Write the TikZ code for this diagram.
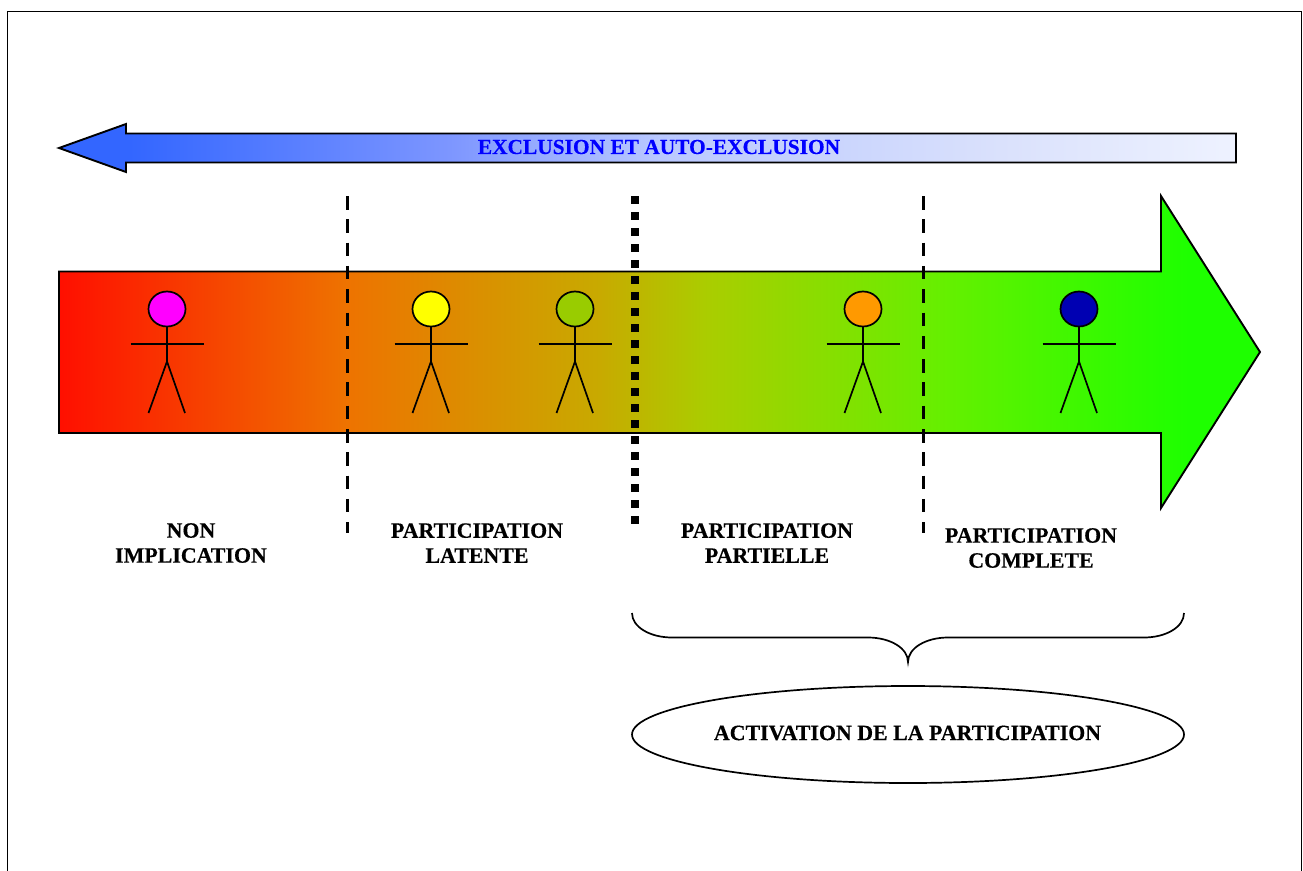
\documentclass[tikz,border=0pt]{standalone}
\usepackage{fontspec}
\setmainfont[BoldFont={Liberation Serif Bold},BoldFeatures={FakeBold=0.35}]{Liberation Serif}
\usetikzlibrary{shapes.geometric}
\definecolor{headmagenta}{RGB}{255,0,255}
\definecolor{headyellow}{RGB}{255,255,0}
\definecolor{headolive}{RGB}{153,204,0}
\definecolor{headorange}{RGB}{255,153,0}
\definecolor{headblue}{RGB}{0,0,178}
\definecolor{ga}{RGB}{255,15,0}
\definecolor{gb}{RGB}{238,115,0}
\definecolor{gc}{RGB}{200,170,0}
\definecolor{gd}{RGB}{170,205,0}
\definecolor{ge}{RGB}{100,240,0}
\definecolor{gf}{RGB}{30,255,0}
\definecolor{ba}{RGB}{51,102,255}
\definecolor{bb}{RGB}{125,150,255}
\definecolor{bm}{RGB}{185,200,255}
\definecolor{bn}{RGB}{218,225,252}
\definecolor{bc}{RGB}{238,242,255}
\pgfdeclarehorizontalshading{redgreen}{100bp}{color(0bp)=(ga); color(25bp)=(ga); color(37bp)=(gb); color(47.5bp)=(gc); color(52bp)=(gd); color(62bp)=(ge); color(72bp)=(gf); color(75bp)=(gf); color(100bp)=(gf)}
\pgfdeclarehorizontalshading{bluefade}{100bp}{color(0bp)=(ba); color(25bp)=(ba); color(28bp)=(ba); color(41.6bp)=(bb); color(50.5bp)=(bm); color(65bp)=(bn); color(75bp)=(bc); color(100bp)=(bc)}
\tikzset{
  x=1pt,y=-1pt,
  outline/.style={draw=black,line width=1.9pt,line join=miter},
  limit/.style={black,line width=3pt,dash pattern=on 13.5pt off 9.8pt},
  heavylimit/.style={black,line width=8pt,dash pattern=on 8pt off 8pt},
  label/.style={font=\fontsize{21.9}{25}\selectfont\bfseries,align=center,inner sep=0pt},
  limb/.style={draw=black,line width=1.7pt},
  person/.pic={
    \path[limb,fill=#1] (0,-43) ellipse [x radius=18.5,y radius=17.5];
    \draw[limb] (0,-26) -- (0,9.5) -- (-18.5,61);
    \draw[limb] (0,9.5) -- (18,61);
    \draw[limb] (-36.5,-8) -- (36.5,-8);
  }
}
\begin{document}
\begin{tikzpicture}
\useasboundingbox (0,0) rectangle (1303,870);
% frame
\draw[black,line width=1.8pt] (7.5,875) -- (7.5,11.5) -- (1301.5,11.5) -- (1301.5,875);
% arrows
\path[outline,shading=bluefade,shading angle=0] (59,148) -- (126,124) -- (126,133.5) -- (1236,133.5) -- (1236,162.5) -- (126,162.5) -- (126,172) -- cycle;
\path[outline,shading=redgreen,shading angle=0] (59,271.5) -- (1161,271.5) -- (1161,196) -- (1260,352) -- (1161,508) -- (1161,433) -- (59,433) -- cycle;
\node[label,text=blue,font=\fontsize{21.4}{25}\selectfont\bfseries] (exclusion) at (659,147) {EXCLUSION ET AUTO-EXCLUSION};
% persons
\pic at (167,352) {person=headmagenta};
\pic at (431,352) {person=headyellow};
\pic at (575,352) {person=headolive};
\pic at (863,352) {person=headorange};
\pic at (1079,352) {person=headblue};
% limits
\coordinate (la) at (347,196); \coordinate (lb) at (347,533);
\coordinate (ma) at (635,196); \coordinate (mb) at (635,525);
\coordinate (ra) at (923,196); \coordinate (rb) at (923,533);
\draw[limit] (la) -- (lb);
\draw[heavylimit] (ma) -- (mb);
\draw[limit] (ra) -- (rb);
% labels
\node[label] (non) at (191,543) {NON\\IMPLICATION};
\node[label] (latente) at (477,543) {PARTICIPATION\\LATENTE};
\node[label] (partielle) at (767,543) {PARTICIPATION\\PARTIELLE};
\node[label] (complete) at (1031,548) {PARTICIPATION\\COMPLETE};
% brace
\draw[black,line width=1.7pt] (632,613) .. controls (632,627) and (650,637.5) .. (672,637.5) -- (868,637.5) .. controls (890,637.5) and (908,648) .. (908,662) .. controls (908,648) and (926,637.5) .. (948,637.5) -- (1144,637.5) .. controls (1166,637.5) and (1184,627) .. (1184,613);
% ellipse
\node[ellipse,draw=black,line width=1.7pt,minimum width=552pt,minimum height=97pt,inner sep=0pt] (activation) at (908,734.5) {};
\node[label] (activationtext) at (907.5,733) {ACTIVATION DE LA PARTICIPATION};
\end{tikzpicture}
\end{document}
